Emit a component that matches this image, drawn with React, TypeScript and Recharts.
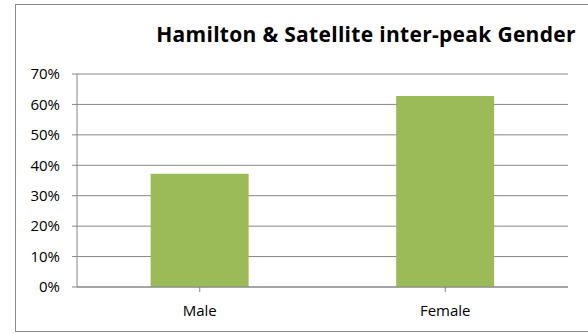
import { BarChart, Bar, XAxis, YAxis, CartesianGrid } from "recharts";

const categories = ["Male", "Female"];
const shares = [37.2, 62.8];
const yTicks = [0, 10, 20, 30, 40, 50, 60, 70];

const data = categories.map((name, i) => ({ name, share: shares[i] }));

const axisColor = "#868686";
const font = "'Open Sans', Arial, sans-serif";

export default function App() {
  return (
    <div style={{ position: "absolute", left: 0, top: 0, width: 588, height: 334, background: "#fff", fontFamily: font }}>
      <div
        style={{
          position: "absolute",
          left: 15,
          top: 4,
          width: 590,
          height: 328,
          border: "1px solid #8a8a8a",
          boxSizing: "border-box",
        }}
      />
      <div
        style={{
          position: "absolute",
          left: 116,
          width: 500,
          top: 20,
          lineHeight: "28px",
          textAlign: "center",
          fontWeight: "bold",
          fontSize: 21,
          letterSpacing: 0.3,
          color: "#000",
        }}
      >
        Hamilton &amp; Satellite inter-peak Gender
      </div>
      <BarChart
        width={588}
        height={334}
        data={data}
        margin={{ top: 74, right: 20, bottom: 17, left: 0 }}
        barCategoryGap="30%"
        style={{ position: "absolute", left: 0, top: 0 }}
      >
        <CartesianGrid vertical={false} stroke={axisColor} />
        <XAxis
          dataKey="name"
          height={30}
          stroke={axisColor}
          tickLine={{ stroke: axisColor }}
          tickSize={5}
          tickMargin={13}
          tick={{ fill: "#000", fontSize: 15, fontFamily: font }}
        />
        <YAxis
          width={77}
          domain={[0, 70]}
          ticks={yTicks}
          tickFormatter={(v: number) => `${v}%`}
          stroke={axisColor}
          tickSize={5}
          tickMargin={12}
          tick={{ fill: "#000", fontSize: 15, fontFamily: font }}
        />
        <Bar dataKey="share" fill="#9BBB59" isAnimationActive={false} />
      </BarChart>
    </div>
  );
}
